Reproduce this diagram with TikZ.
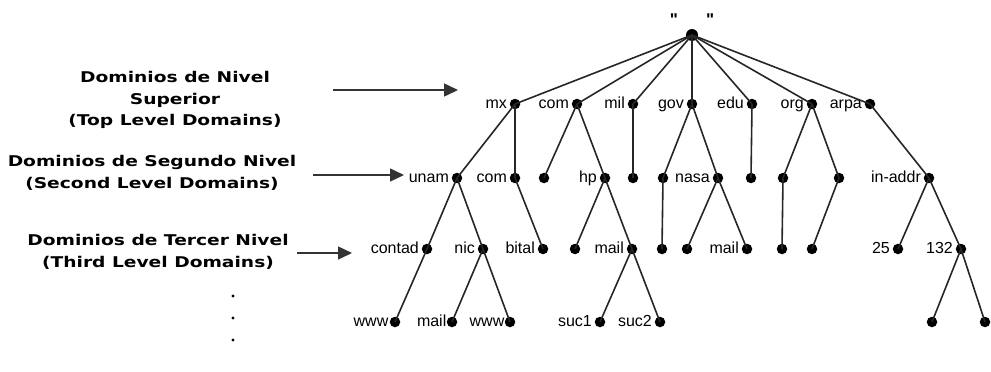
\documentclass[tikz,border=0pt]{standalone}
\usepackage{fontspec}
\setmainfont{Liberation Sans}
\newfontfamily\headfont{DejaVu Sans}[FakeStretch=1.26]
\newfontfamily\quotefont{Liberation Sans}[Ligatures=TeXOff]
\usetikzlibrary{arrows.meta}

\tikzset{
  dot/.style={circle, fill=black, inner sep=0pt, minimum size=10.5pt},
  lbl/.style={font=\fontsize{16}{18}\selectfont, inner sep=1pt, text height=11pt, text depth=3pt},
  branch/.style={line width=1.6pt, black!85},
  levelnote/.style={font=\headfont\bfseries\fontsize{14.8}{21.5}\selectfont, align=center, inner sep=0pt},
  pointer/.style={line width=1.5pt, black!80, -{Triangle[length=14pt,width=13pt]}},
  ellipsisdot/.style={circle, fill=black, inner sep=0pt, minimum size=3.2pt},
  label distance=1.5pt
}

\begin{document}
\begin{tikzpicture}[x=1pt, y=-1pt]
\useasboundingbox (0,0) rectangle (991,372);

% root and its empty name
\node[dot, minimum size=12pt] (root) at (692,35) {};
\node[inner sep=0pt, font=\quotefont\bfseries\fontsize{17}{19}\selectfont] (rootname) at (692,20) {"\hspace{28pt}"};

% top level domains
\node[dot, label={[lbl]left:mx}]   (mx)   at (515,104) {};
\node[dot, label={[lbl]left:com}]  (com)  at (577,104) {};
\node[dot, label={[lbl]left:mil}]  (mil)  at (633,104) {};
\node[dot, label={[lbl]left:gov}]  (gov)  at (692,104) {};
\node[dot, label={[lbl]left:edu}]  (edu)  at (752,104) {};
\node[dot, label={[lbl]left:org}]  (org)  at (812,104) {};
\node[dot, label={[lbl]left:arpa}] (arpa) at (870,104) {};

% second level domains
\node[dot, label={[lbl]left:unam}]    (unam)   at (457,178) {};
\node[dot, label={[lbl]left:com}]     (mxcom)  at (515,178) {};
\node[dot]                            (coma)   at (544,178) {};
\node[dot, label={[lbl]left:hp}]      (hp)     at (605,178) {};
\node[dot]                            (mila)   at (633,178) {};
\node[dot]                            (gova)   at (663,178) {};
\node[dot, label={[lbl]left:nasa}]    (nasa)   at (718,178) {};
\node[dot]                            (edua)   at (751,178) {};
\node[dot]                            (orga)   at (783,178) {};
\node[dot]                            (orgb)   at (839,178) {};
\node[dot, label={[lbl]left:in-addr}] (inaddr) at (929,178) {};

% third level domains
\node[dot, label={[lbl]left:contad}] (contad) at (427,249) {};
\node[dot, label={[lbl]left:nic}]    (nic)    at (483,249) {};
\node[dot, label={[lbl]left:bital}]  (bital)  at (543,249) {};
\node[dot]                           (hpa)    at (575,249) {};
\node[dot, label={[lbl]left:mail}]   (hpmail) at (632,249) {};
\node[dot]                           (govb)   at (662,249) {};
\node[dot]                           (nasaa)  at (687,249) {};
\node[dot, label={[lbl]left:mail}]   (nasamail) at (747,249) {};
\node[dot]                           (orgc)   at (782,249) {};
\node[dot]                           (orgd)   at (812,249) {};
\node[dot, label={[lbl]left:25}]     (n25)    at (898,249) {};
\node[dot, label={[lbl]left:132}]    (n132)   at (961,249) {};

% fourth level
\node[dot, label={[lbl,label distance=0pt]left:www}]  (www1)   at (395,322) {};
\node[dot, label={[lbl,label distance=-1pt]left:mail}] (nicmail) at (452,322) {};
\node[dot, label={[lbl,label distance=-1pt]left:www}]  (www2)   at (510,322) {};
\node[dot, label={[lbl]left:suc1}] (suc1)   at (600,322) {};
\node[dot, label={[lbl]left:suc2}] (suc2)   at (660,322) {};
\node[dot]                         (ipa)    at (932,322) {};
\node[dot]                         (ipb)    at (985,322) {};

% branches
\foreach \c in {mx,com,mil,gov,edu,org,arpa}
  \draw[branch] (root.center) -- (\c.center);
\foreach \p/\c in {mx/unam, mx/mxcom, com/coma, com/hp, mil/mila, gov/gova,
                   gov/nasa, edu/edua, org/orga, org/orgb, arpa/inaddr,
                   unam/contad, unam/nic, mxcom/bital, hp/hpa, hp/hpmail,
                   gova/govb, nasa/nasaa, nasa/nasamail, orga/orgc, orgb/orgd,
                   inaddr/n25, inaddr/n132,
                   contad/www1, nic/nicmail, nic/www2, hpmail/suc1, hpmail/suc2,
                   n132/ipa, n132/ipb}
  \draw[branch] (\p.center) -- (\c.center);

% level notes on the left
\node[levelnote] (toplevel) at (175,100) {Dominios de Nivel\\Superior\\(Top Level Domains)};
\node[levelnote] (secondlevel) at (152,173) {Dominios de Segundo Nivel\\(Second Level Domains)};
\node[levelnote] (thirdlevel) at (158,252) {Dominios de Tercer Nivel\\(Third Level Domains)};

\coordinate (p1s) at (333,90);  \coordinate (p1e) at (458,90);
\coordinate (p2s) at (313,175); \coordinate (p2e) at (404,175);
\coordinate (p3s) at (297,253); \coordinate (p3e) at (352,253);
\draw[pointer] (p1s) -- (p1e);
\draw[pointer] (p2s) -- (p2e);
\draw[pointer] (p3s) -- (p3e);

% vertical ellipsis
\node[ellipsisdot] (e1) at (233,296) {};
\node[ellipsisdot] (e2) at (233,318) {};
\node[ellipsisdot] (e3) at (233,340) {};
\end{tikzpicture}
\end{document}
